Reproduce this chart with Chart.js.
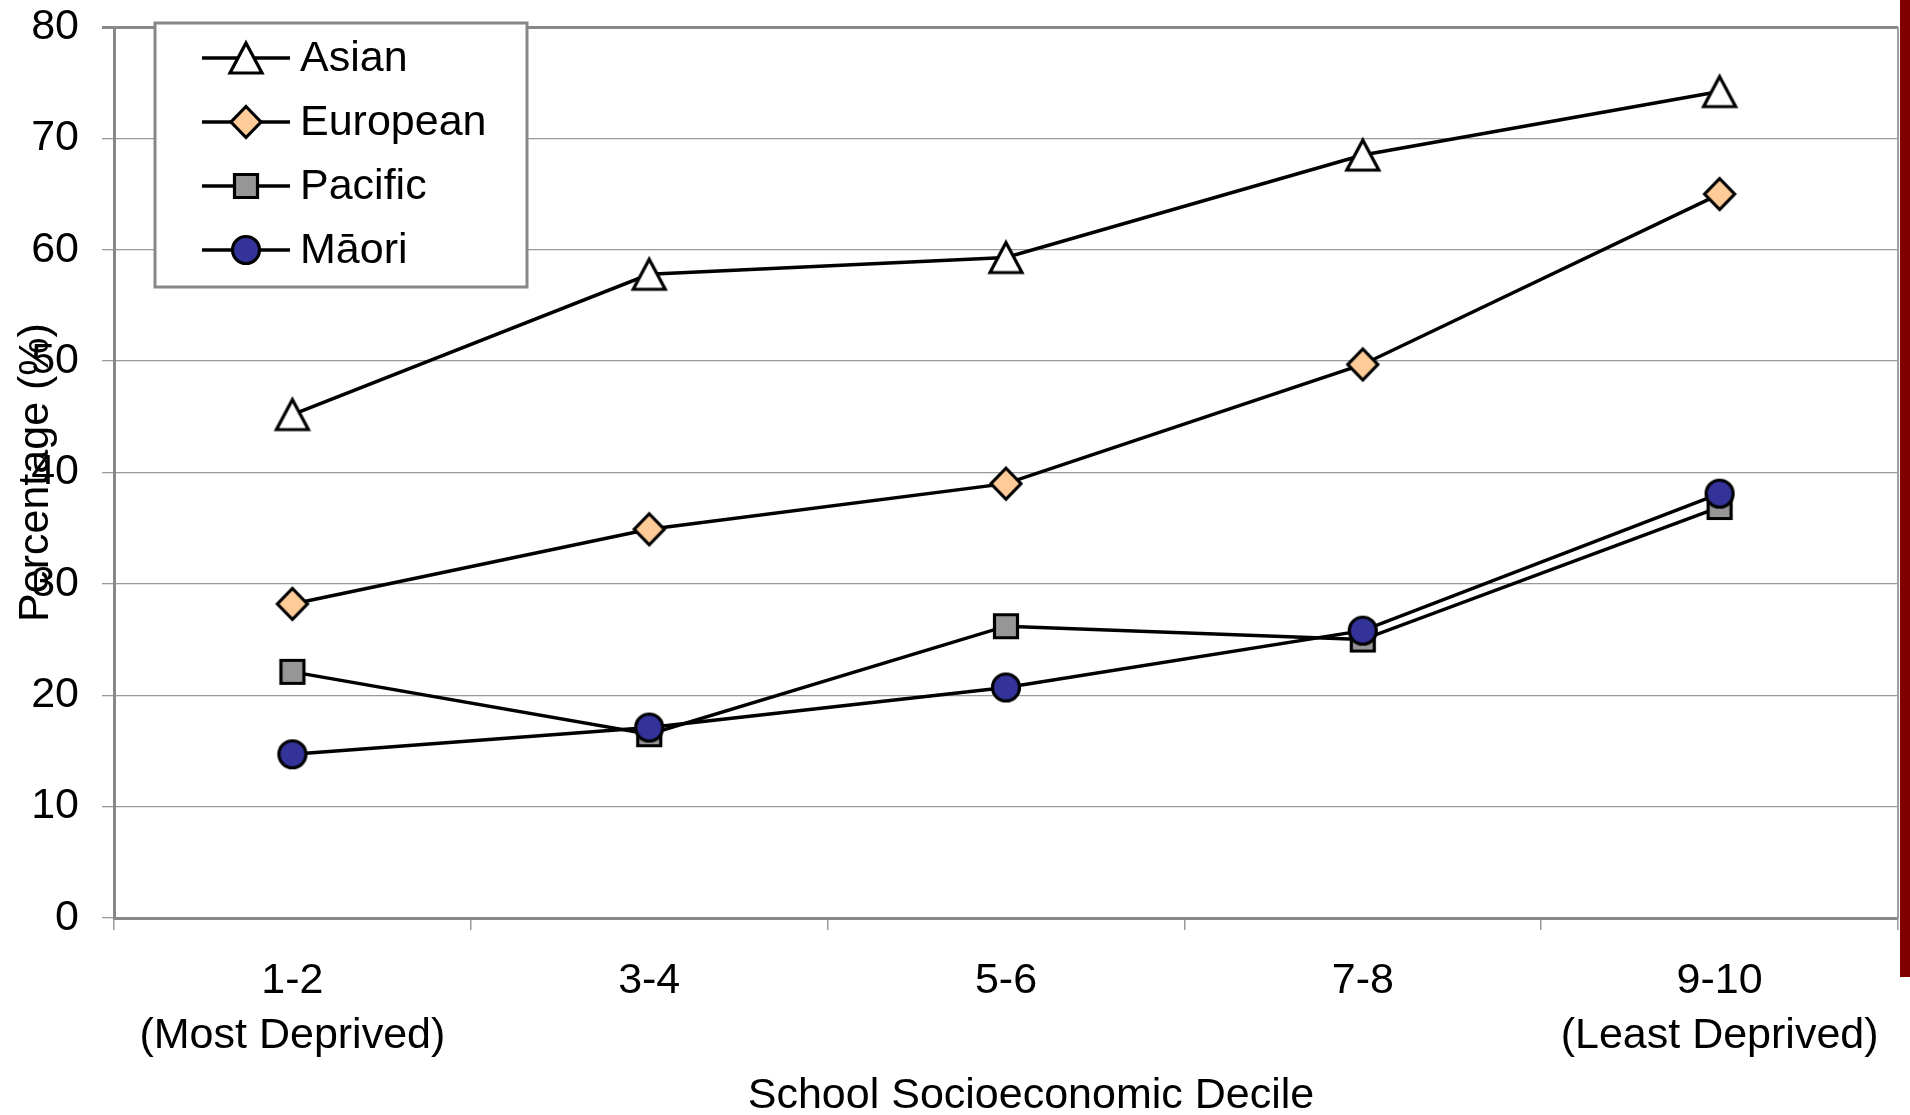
<!DOCTYPE html>
<html>
<head>
<meta charset="utf-8">
<title>School Socioeconomic Decile</title>
<script src="https://cdn.jsdelivr.net/npm/chart.js@4.4.0/dist/chart.umd.min.js"></script>
<style>
  html, body { margin: 0; padding: 0; background: #fff; overflow: hidden; }
  #wrap { position: relative; width: 1910px; height: 1115px; }
  #edge { position: absolute; left: 1900px; top: 0; width: 10px; height: 977px; background: #800000; }
</style>
</head>
<body>
<div id="wrap">
  <canvas id="decileChart" width="1910" height="1115"></canvas>
  <div id="edge"></div>
</div>
<script>
// categories (first line) and the notes under the end ones
var deciles = ['1-2', '3-4', '5-6', '7-8', '9-10'];
var decileNotes = ['(Most Deprived)', '', '', '', '(Least Deprived)'];

var seriesNames = ['Asian', 'European', 'Pacific', 'M\u0101ori'];
var asian = [45.2, 57.8, 59.3, 68.5, 74.2];
var european = [28.2, 34.9, 39.0, 49.7, 65.0];
var pacific = [22.1, 16.5, 26.2, 25.0, 36.9];
var maori = [14.7, 17.1, 20.7, 25.8, 38.1];

var yTicks = [0, 10, 20, 30, 40, 50, 60, 70, 80];

var xTitle = 'School Socioeconomic Decile';
var yTitle = 'Percentage (%)';

var FONT = "'Liberation Sans', Arial, sans-serif";
var FSIZE = 43;

// small canvases used as point markers (and reused in the legend)
function makeMarker(shape, fill) {
  var c = document.createElement('canvas');
  var s = shape === 'triangle' ? 40 : shape === 'diamond' ? 38 : shape === 'square' ? 30 : 32;
  c.width = s; c.height = s;
  var g = c.getContext('2d');
  g.lineWidth = 3.2;
  g.strokeStyle = '#000';
  g.fillStyle = fill;
  g.beginPath();
  if (shape === 'triangle') {
    g.moveTo(20, 5); g.lineTo(36, 35); g.lineTo(4, 35); g.closePath();
  } else if (shape === 'diamond') {
    g.moveTo(19, 3.5); g.lineTo(34, 19); g.lineTo(19, 34.5); g.lineTo(4, 19); g.closePath();
  } else if (shape === 'square') {
    g.rect(3.5, 3.5, 23, 23);
  } else {
    g.arc(16, 16, 13.5, 0, Math.PI * 2);
  }
  g.fill();
  g.stroke();
  return c;
}

var markers = [
  makeMarker('triangle', '#ffffff'),
  makeMarker('diamond', '#ffcc99'),
  makeMarker('square', '#969696'),
  makeMarker('circle', '#333399')
];

var categories = deciles.map(function (d, i) {
  return decileNotes[i] ? [d, decileNotes[i]] : [d];
});

var values = [asian, european, pacific, maori];
var datasets = values.map(function (v, i) {
  return {
    label: seriesNames[i],
    data: v,
    borderColor: '#000',
    borderWidth: 3.5,
    tension: 0,
    pointStyle: markers[i],
    pointRadius: 16,
    pointHoverRadius: 16,
    order: values.length - 1 - i,
    clip: false
  };
});

// plot frame right side, x title, legend box inside the plot
var framePlugin = {
  id: 'framePlugin',
  beforeDatasetsDraw: function (chart) {
    var a = chart.chartArea, ctx = chart.ctx;
    ctx.save();
    ctx.strokeStyle = '#a0a0a0';
    ctx.lineWidth = 2;
    ctx.beginPath();
    ctx.moveTo(a.right, a.top);
    ctx.lineTo(a.right, a.bottom);
    ctx.stroke();
    ctx.restore();
  },
  afterDraw: function (chart) {
    var ctx = chart.ctx;
    ctx.save();
    ctx.fillStyle = '#000';
    ctx.font = FSIZE + 'px ' + FONT;
    ctx.textBaseline = 'middle';
    ctx.textAlign = 'center';
    ctx.fillText(xTitle, 1031, 1096);

    ctx.fillStyle = '#fff';
    ctx.fillRect(155, 23, 372, 264);
    ctx.strokeStyle = '#888';
    ctx.lineWidth = 3;
    ctx.strokeRect(155, 23, 372, 264);
    chart.data.datasets.forEach(function (ds, i) {
      var y = 58 + i * 64;
      ctx.strokeStyle = '#000';
      ctx.lineWidth = 3.5;
      ctx.beginPath();
      ctx.moveTo(202, y);
      ctx.lineTo(290, y);
      ctx.stroke();
      var m = ds.pointStyle;
      ctx.drawImage(m, 246 - m.width / 2, y - m.height / 2);
      ctx.fillStyle = '#000';
      ctx.textAlign = 'left';
      ctx.fillText(ds.label, 300, y + 1);
    });
    ctx.restore();
  }
};

var ctx = document.getElementById('decileChart').getContext('2d');
var decileChart = new Chart(ctx, {
  type: 'line',
  data: {
    labels: categories,
    datasets: datasets
  },
  plugins: [framePlugin],
  options: {
    responsive: false,
    animation: false,
    layout: { autoPadding: false, padding: { left: 15, right: 12, top: 27, bottom: 0 } },
    plugins: {
      legend: { display: false },
      tooltip: { enabled: false }
    },
    scales: {
      x: {
        offset: true,
        grid: {
          offset: true,
          drawOnChartArea: false,
          drawTicks: true,
          tickLength: 12,
          color: '#999',
          lineWidth: 1.5
        },
        border: { color: '#888', width: 3 },
        ticks: {
          color: '#000',
          padding: 24,
          maxRotation: 0,
          autoSkip: false,
          font: { family: FONT, size: FSIZE, lineHeight: 1.28 }
        },
        title: { display: false },
        afterFit: function (scale) {
          scale.height = 197;
          scale.paddingLeft = 0;
          scale.paddingRight = 0;
        }
      },
      y: {
        min: yTicks[0],
        max: yTicks[yTicks.length - 1],
        afterBuildTicks: function (scale) {
          scale.ticks = yTicks.map(function (v) { return { value: v }; });
        },
        grid: {
          tickLength: 12,
          color: function (c) { return c.tick && c.tick.value === 80 ? '#888' : '#999'; },
          lineWidth: function (c) { return c.tick && c.tick.value === 80 ? 3 : 1.3; }
        },
        border: { color: '#888', width: 3 },
        ticks: {
          color: '#000',
          padding: 23,
          font: { family: FONT, size: FSIZE, lineHeight: 1.2 }
        },
        title: {
          display: true,
          text: yTitle,
          color: '#000',
          padding: 0,
          font: { family: FONT, size: FSIZE, lineHeight: 1 }
        },
        afterFit: function (scale) {
          scale.width = 99;
          scale.paddingTop = 0;
          scale.paddingBottom = 0;
        }
      }
    }
  }
});
</script>
</body>
</html>
